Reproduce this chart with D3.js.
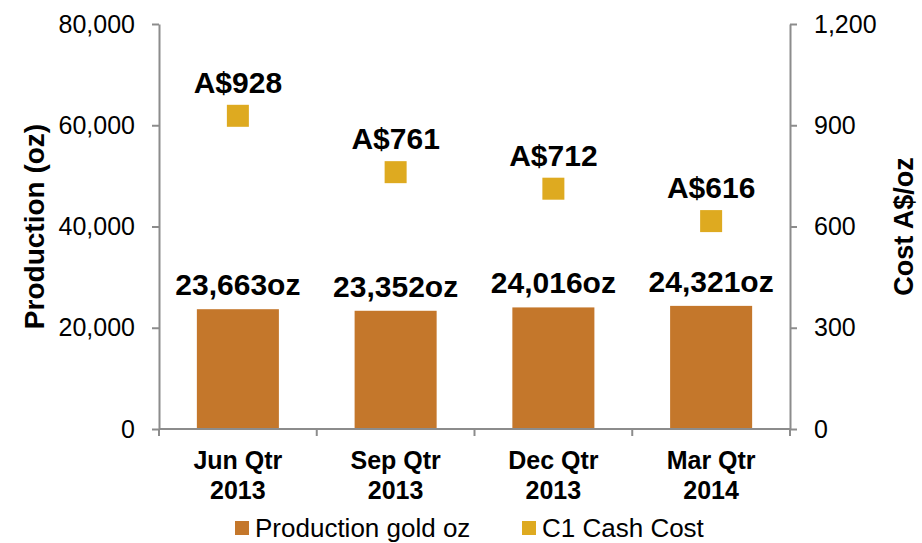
<!DOCTYPE html>
<html>
<head>
<meta charset="utf-8">
<script src="https://cdn.jsdelivr.net/npm/d3@7"></script>
<style>
  body { margin: 0; background: #fff; }
  svg { font-family: "Liberation Sans", Arial, sans-serif; }
  .axis path, .axis line { stroke: #8c8c8c; stroke-width: 2; }
  .axis text { font-size: 25px; fill: #000; }
</style>
</head>
<body>
<div id="chart"></div>
<script>
'use strict';

const W = 922, H = 543;
const MARGIN = { top: 24, right: 132, bottom: 114, left: 159 };

const categories = [['Jun Qtr', '2013'], ['Sep Qtr', '2013'], ['Dec Qtr', '2013'], ['Mar Qtr', '2014']];
const production = [23663, 23352, 24016, 24321];
const cashCost = [928, 761, 712, 616];
const leftTicks = [0, 20000, 40000, 60000, 80000];
const rightTicks = [0, 300, 600, 900, 1200];

const BAR_COLOR = '#c4772b';
const COST_COLOR = '#deaa20';

const w = W - MARGIN.left - MARGIN.right;
const h = H - MARGIN.top - MARGIN.bottom;

const svg = d3.select('#chart').append('svg')
  .attr('width', W).attr('height', H);

const g = svg.append('g')
  .attr('transform', `translate(${MARGIN.left},${MARGIN.top})`);

const x = d3.scaleBand().domain(d3.range(categories.length)).range([0, w])
  .paddingInner(0.48).paddingOuter(0.24);
const yL = d3.scaleLinear().domain([0, 80000]).range([h, 0]);
const yR = d3.scaleLinear().domain([0, 1200]).range([h, 0]);

// Bars
g.selectAll('rect.bar')
  .data(production)
  .join('rect')
  .attr('class', 'bar')
  .attr('x', (d, i) => x(i))
  .attr('width', x.bandwidth())
  .attr('y', d => yL(d))
  .attr('height', d => h - yL(d))
  .attr('fill', BAR_COLOR);

// Axes
g.append('g')
  .attr('class', 'axis')
  .call(d3.axisLeft(yL).tickValues(leftTicks).tickSize(7).tickSizeOuter(0).tickPadding(17).tickFormat(d3.format(',')));

g.append('g')
  .attr('class', 'axis')
  .attr('transform', `translate(${w},0)`)
  .call(d3.axisRight(yR).tickValues(rightTicks).tickSize(7).tickSizeOuter(0).tickPadding(17).tickFormat(d3.format(',')));

// x axis baseline with category boundary ticks
const xAxis = g.append('g').attr('class', 'axis');
xAxis.append('line')
  .attr('x1', 0).attr('x2', w).attr('y1', h).attr('y2', h);
const step = w / categories.length;
d3.range(categories.length + 1).forEach(i => {
  xAxis.append('line')
    .attr('x1', i * step).attr('x2', i * step)
    .attr('y1', h).attr('y2', h + 7);
});

// Category labels
categories.forEach((lines, i) => {
  const cx = x(i) + x.bandwidth() / 2;
  const t = g.append('text')
    .attr('x', cx)
    .attr('y', h + 40)
    .attr('text-anchor', 'middle')
    .attr('font-size', '25px').attr('font-weight', 'bold');
  lines.forEach((ln, j) => {
    t.append('tspan').attr('x', cx).attr('dy', j ? 30 : 0).text(ln);
  });
});

// Bar labels
g.selectAll('text.barlabel')
  .data(production)
  .join('text')
  .attr('x', (d, i) => x(i) + x.bandwidth() / 2)
  .attr('y', d => yL(d) - 14)
  .attr('text-anchor', 'middle')
  .attr('font-size', '30px').attr('font-weight', 'bold')
  .text(d => d3.format(',')(d) + 'oz');

// Cash cost markers
const SQ = 22;
g.selectAll('rect.cost')
  .data(cashCost)
  .join('rect')
  .attr('x', (d, i) => x(i) + x.bandwidth() / 2 - SQ / 2)
  .attr('y', d => yR(d) - SQ / 2)
  .attr('width', SQ).attr('height', SQ)
  .attr('fill', COST_COLOR);

g.selectAll('text.costlabel')
  .data(cashCost)
  .join('text')
  .attr('x', (d, i) => x(i) + x.bandwidth() / 2)
  .attr('y', d => yR(d) - 23)
  .attr('text-anchor', 'middle')
  .attr('font-size', '30px').attr('font-weight', 'bold')
  .text(d => 'A$' + d);

// Axis titles
svg.append('text')
  .attr('transform', `translate(44,${MARGIN.top + h / 2}) rotate(-90)`)
  .attr('text-anchor', 'middle')
  .attr('font-size', '28px').attr('font-weight', 'bold')
  .text('Production (oz)');

svg.append('text')
  .attr('transform', `translate(913,${MARGIN.top + h / 2}) rotate(-90)`)
  .attr('text-anchor', 'middle')
  .attr('font-size', '27px').attr('font-weight', 'bold')
  .text('Cost A$/oz');

// Legend
const legendItems = [
  { label: 'Production gold oz', color: BAR_COLOR, x: 235 },
  { label: 'C1 Cash Cost', color: COST_COLOR, x: 522 },
];
legendItems.forEach(it => {
  svg.append('rect')
    .attr('x', it.x).attr('y', 521)
    .attr('width', 14).attr('height', 14)
    .attr('fill', it.color);
  svg.append('text')
    .attr('x', it.x + 20).attr('y', 537)
    .attr('font-size', '26px')
    .text(it.label);
});
</script>
</body>
</html>
